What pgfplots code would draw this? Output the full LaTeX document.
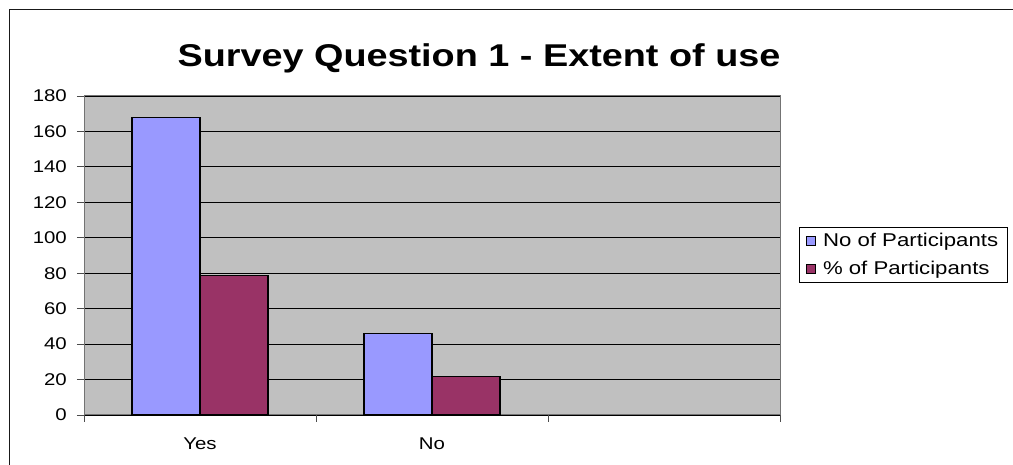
\documentclass[border=0pt]{standalone}
\usepackage{fontspec}
\setmainfont[FakeStretch=1.2]{Liberation Sans}
\usepackage{pgfplots}
\pgfplotsset{compat=1.18}
\definecolor{barblue}{HTML}{9999FF}
\definecolor{barred}{HTML}{993366}
\definecolor{plotbg}{HTML}{C0C0C0}
\begin{document}
\begin{tikzpicture}[x=1pt,y=1pt]
\path[use as bounding box] (0,0) rectangle (1013,465);
\draw[line width=1.6pt, black!90] (9.5,0) -- (9.5,455.5) -- (1013,455.5);
\node[font=\bfseries\fontsize{31.5}{36}\selectfont, anchor=center] at (479,407) {Survey Question 1 - Extent of use};
\begin{axis}[
  at={(84pt,50pt)}, anchor=south west,
  scale only axis, width=696pt, height=319pt,
  xmin=-0.5, xmax=2.5, ymin=0, ymax=180,
  axis background/.style={fill=plotbg},
  axis line style={draw=black!55, line width=1pt},
  ytick={0,20,...,180},
  ymajorgrids, major grid style={black, line width=0.8pt},
  xtick={-0.5,0.5,1.5,2.5}, xticklabels={},
  extra x ticks={0,1}, extra x tick labels={Yes,No},
  extra x tick style={major tick length=0pt, xticklabel style={anchor=north, yshift=-19pt}},
  xtick pos=bottom, ytick pos=left,
  tick align=outside, major tick length=7pt,
  tick style={black!70, line width=0.8pt},
  /pgf/number format/assume math mode=true,
  ticklabel style={font=\fontsize{17}{20}\selectfont},
  yticklabel style={anchor=east, inner sep=0pt, xshift=-10pt},
  legend style={at={(1.0273,0.589)}, anchor=north west, draw=black, fill=white,
    font=\fontsize{18.5}{22}\selectfont, inner xsep=7pt, inner ysep=4pt,
    row sep=9pt, column sep=5pt, legend cell align=left},
  every axis plot post/.append style={legend image code/.code={
    \draw[#1,/tikz/.cd,draw=black,line width=0.8pt] (0pt,-4.5pt) rectangle (9pt,4.5pt);}},
]
\addplot[ybar, bar width=0.293, bar shift=-0.1465, fill=barblue, draw=black, line width=1.2pt]
  coordinates {(0,168) (1,46)};
\addlegendentry{No of Participants}
\addplot[ybar, bar width=0.293, bar shift=0.1465, fill=barred, draw=black, line width=1.2pt]
  coordinates {(0,78.5) (1,21.5)};
\addlegendentry{\% of Participants}
\end{axis}
\end{tikzpicture}
\end{document}
